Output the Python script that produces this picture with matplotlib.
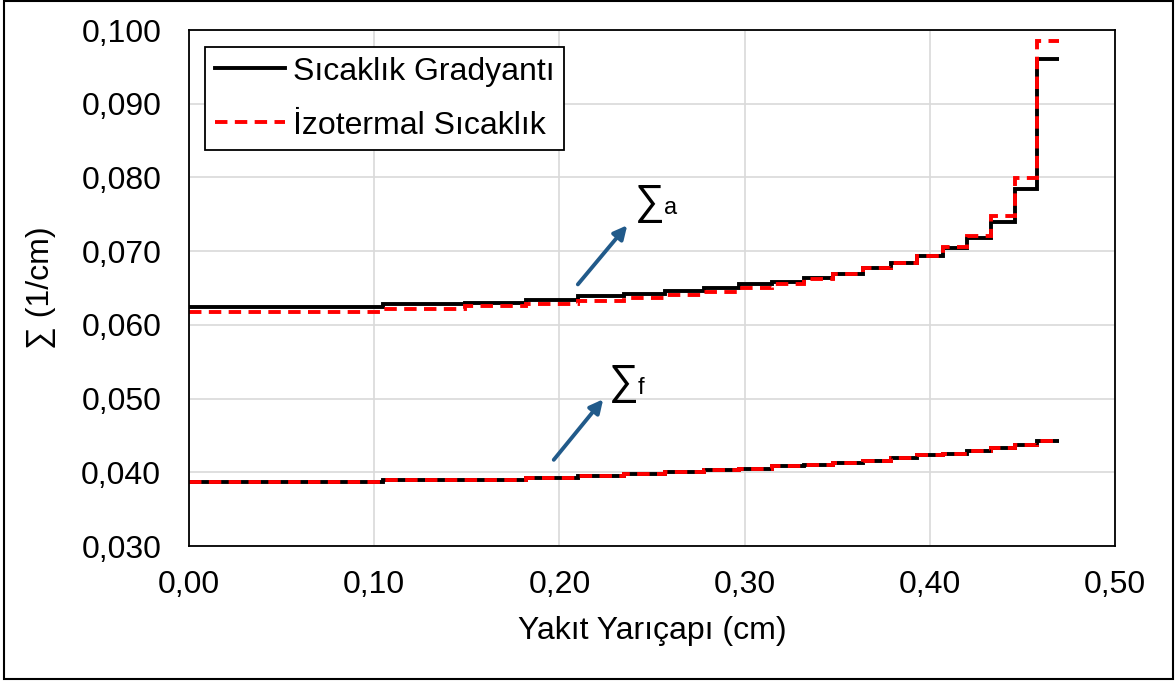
import matplotlib
matplotlib.use("Agg")
import matplotlib.pyplot as plt
from matplotlib.patches import Rectangle
from matplotlib.lines import Line2D

plt.rcParams['font.family'] = ['Liberation Sans', 'DejaVu Sans']

# ring boundaries (cm)
edges = [0.0, 0.105, 0.149, 0.182, 0.210, 0.235, 0.257, 0.278, 0.297, 0.315, 0.332,
         0.348, 0.364, 0.379, 0.393, 0.407, 0.420, 0.433, 0.446, 0.458, 0.470]

sig_a_grad = [0.0624, 0.0628, 0.0630, 0.0634, 0.0639, 0.0642, 0.0646, 0.0650, 0.0655, 0.0658,
              0.0664, 0.0669, 0.0677, 0.0684, 0.0693, 0.0704, 0.0718, 0.0740, 0.0784, 0.0961]
sig_a_iso = [0.0617, 0.0621, 0.0625, 0.0628, 0.0633, 0.0637, 0.0641, 0.0645, 0.0650, 0.0655,
             0.0662, 0.0669, 0.0677, 0.0684, 0.0693, 0.0705, 0.0720, 0.0747, 0.0799, 0.0985]
sig_f_grad = [0.0387, 0.0389, 0.0390, 0.0392, 0.0395, 0.0397, 0.0400, 0.0403, 0.0405, 0.0408,
              0.0410, 0.0413, 0.0415, 0.0419, 0.0423, 0.0425, 0.0429, 0.0433, 0.0437, 0.0442]
sig_f_iso = [0.0387, 0.0389, 0.0390, 0.0392, 0.0395, 0.0397, 0.0400, 0.0403, 0.0405, 0.0408,
             0.0410, 0.0413, 0.0415, 0.0419, 0.0423, 0.0425, 0.0429, 0.0433, 0.0437, 0.0442]

xticks = [0.0, 0.1, 0.2, 0.3, 0.4, 0.5]
xtick_labels = ['0,00', '0,10', '0,20', '0,30', '0,40', '0,50']
yticks = [0.030, 0.040, 0.050, 0.060, 0.070, 0.080, 0.090, 0.100]
ytick_labels = ['0,030', '0,040', '0,050', '0,060', '0,070', '0,080', '0,090', '0,100']

series_names = ['Sıcaklık Gradyantı', 'İzotermal Sıcaklık']

W, H = 1176, 684
FS = 23
fig = plt.figure(figsize=(W / 100, H / 100), dpi=100)
ax = fig.add_axes([189 / W, (H - 546) / H, (1115 - 189) / W, (546 - 30) / H])

blk = dict(color='black', lw=2.8)
red = dict(color='#ff0000', lw=2.8, linestyle=(0, (3.2, 1.9)))

ax.stairs(sig_a_grad, edges, baseline=None, **blk)
ax.stairs(sig_f_grad, edges, baseline=None, **blk)
ax.stairs(sig_a_iso, edges, baseline=None, **red)
ax.stairs(sig_f_iso, edges, baseline=None, **red)

ax.set_xlim(0, 0.5)
ax.set_ylim(0.030, 0.100)
ax.set_xticks(xticks)
ax.set_xticklabels(xtick_labels)
ax.set_yticks(yticks)
ax.set_yticklabels(ytick_labels)
ax.tick_params(axis='both', length=0, labelsize=FS)
ax.tick_params(axis='y', pad=20)
ax.tick_params(axis='x', pad=17)
ax.grid(True, color='#d9d9d9', lw=1.2)
ax.set_axisbelow(True)
for s in ax.spines.values():
    s.set_color('black')
    s.set_linewidth(1.3)

ax.set_xlabel('Yakıt Yarıçapı (cm)', fontsize=FS, labelpad=12)
ax.set_ylabel('∑ (1/cm)', fontsize=FS, labelpad=18)

# annotations
arrow_c = '#215a8a'
ax.annotate('', xy=(0.2376, 0.0738), xytext=(0.209, 0.0652),
            arrowprops=dict(arrowstyle='-|>,head_length=0.8,head_width=0.4', color=arrow_c, lw=2.8))
ax.annotate('', xy=(0.2246, 0.0502), xytext=(0.196, 0.0414),
            arrowprops=dict(arrowstyle='-|>,head_length=0.8,head_width=0.4', color=arrow_c, lw=2.8))
ax.text(0.2405, 0.0750, '∑', fontsize=30, ha='left', va='baseline')
ax.text(0.2565, 0.0750, 'a', fontsize=17, ha='left', va='baseline')
ax.text(0.2265, 0.0506, '∑', fontsize=30, ha='left', va='baseline')
ax.text(0.2425, 0.0506, 'f', fontsize=17, ha='left', va='baseline')

handles = [Line2D([], [], **blk), Line2D([], [], **red)]
leg = ax.legend(handles, series_names, loc='upper left',
                bbox_to_anchor=((205 - 189) / 926, (546 - 47) / 516),
                borderaxespad=0, fontsize=FS, handlelength=2.2, handletextpad=0.25,
                labelspacing=0.75, fancybox=False, framealpha=1, borderpad=0.3)
leg.get_frame().set_edgecolor('black')
leg.get_frame().set_linewidth(1.3)

fig.patches.append(Rectangle((4 / W, 5 / H), 1169 / W, 678 / H, transform=fig.transFigure,
                             fill=False, edgecolor='black', lw=1.5))

fig.savefig('out.png', dpi=100)
